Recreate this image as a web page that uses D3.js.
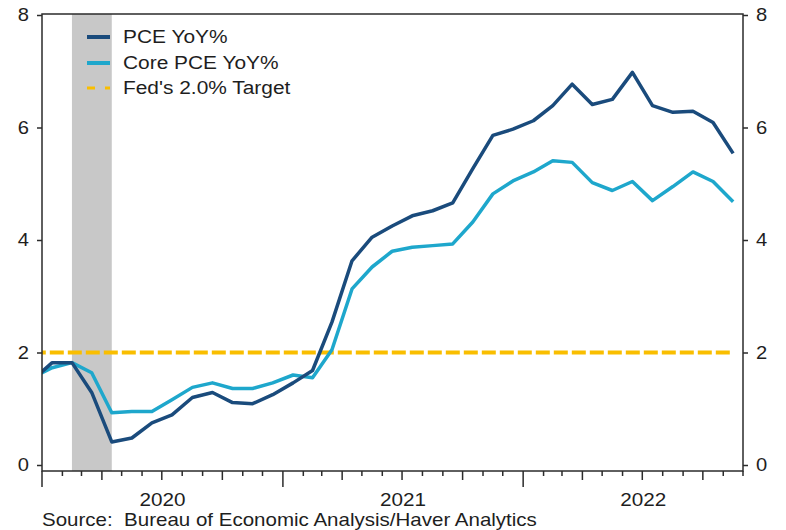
<!DOCTYPE html>
<html>
<head>
<meta charset="utf-8">
<script src="https://cdn.jsdelivr.net/npm/d3@7"></script>
<style>
  html, body { margin: 0; padding: 0; background: #fff; }
  svg { display: block; font-family: "Liberation Sans", Arial, sans-serif; }
</style>
</head>
<body>
<svg id="chart" width="786" height="530"></svg>
<script>
// ---- data ----
const months = ["2019-12",
  "2020-01","2020-02","2020-03","2020-04","2020-05","2020-06","2020-07","2020-08","2020-09","2020-10","2020-11","2020-12",
  "2021-01","2021-02","2021-03","2021-04","2021-05","2021-06","2021-07","2021-08","2021-09","2021-10","2021-11","2021-12",
  "2022-01","2022-02","2022-03","2022-04","2022-05","2022-06","2022-07","2022-08","2022-09","2022-10","2022-11"];
const pce = [1.50,
  1.82,1.82,1.29,0.41,0.48,0.75,0.89,1.20,1.29,1.11,1.09,1.25,
  1.46,1.68,2.54,3.63,4.05,4.25,4.43,4.52,4.66,5.27,5.86,5.97,
  6.12,6.39,6.77,6.41,6.50,6.98,6.39,6.27,6.29,6.09,5.54];
const corePce = [1.55,
  1.73,1.82,1.64,0.93,0.95,0.95,1.16,1.38,1.46,1.36,1.36,1.46,
  1.60,1.55,2.05,3.13,3.52,3.80,3.87,3.90,3.93,4.32,4.82,5.05,
  5.21,5.41,5.38,5.02,4.88,5.04,4.70,4.95,5.21,5.04,4.68];
const fedTarget = 2.0;
const recession = ["2020-02", "2020-04"];
const yTicks = [0, 2, 4, 6, 8];
const yearLabels = ["2020", "2021", "2022"];
const seriesNames = ["PCE YoY%", "Core PCE YoY%", "Fed's 2.0% Target"];

// ---- helpers ----
const parseMonth = d3.utcParse("%Y-%m");
function midMonth(s) {
  const a = parseMonth(s), b = d3.utcMonth.offset(a, 1);
  return new Date((+a + +b) / 2);
}
// horizontally widen text (reference glyphs are wider than Liberation Sans)
function stretch(sel, s) {
  sel.each(function () {
    const t = d3.select(this);
    const x0 = +(t.attr("x") || 0);
    t.attr("x", x0 / s).attr("transform", `scale(${s},1)`);
  });
}

// ---- layout ----
const svg = d3.select("#chart");
const L = 42, R = 743, T = 14, B = 471;
const x = d3.scaleUtc()
  .domain([new Date(Date.UTC(2020, 0, 1)), new Date(Date.UTC(2022, 11, 1))])
  .range([L, R]);
const y = d3.scaleLinear().domain([0, 8]).range([465, 15]);

const colors = { pce: "#1a4b7c", core: "#1ea7cc", target: "#f9be00", frame: "#2b2b2b", text: "#1e1e1e" };

svg.append("defs").append("clipPath").attr("id", "plotclip")
  .append("rect").attr("x", L).attr("y", T).attr("width", R - L).attr("height", B - T);

// recession shading
svg.append("rect")
  .attr("x", x(midMonth(recession[0])))
  .attr("y", T)
  .attr("width", x(midMonth(recession[1])) - x(midMonth(recession[0])))
  .attr("height", B - T)
  .attr("fill", "#c8c8c8");

const plot = svg.append("g").attr("clip-path", "url(#plotclip)");

// target line
const dates = months.map(midMonth);
plot.append("path")
  .datum(dates)
  .attr("fill", "none")
  .attr("stroke", colors.target)
  .attr("stroke-width", 4)
  .attr("stroke-dasharray", "14,4")
  .attr("d", d3.line().x(d => x(d)).y(() => y(fedTarget)));

const line = d3.line().x((d, i) => x(dates[i])).y(d => y(d));
plot.append("path").datum(corePce)
  .attr("fill", "none").attr("stroke", colors.core).attr("stroke-width", 3.5)
  .attr("stroke-linejoin", "round").attr("d", line);
plot.append("path").datum(pce)
  .attr("fill", "none").attr("stroke", colors.pce).attr("stroke-width", 3.5)
  .attr("stroke-linejoin", "round").attr("d", line);

// frame
svg.append("rect").attr("x", L).attr("y", T).attr("width", R - L).attr("height", B - T)
  .attr("fill", "none").attr("stroke", colors.frame).attr("stroke-width", 1.5);

// y axes
const yl = svg.append("g").attr("transform", `translate(${L},0)`)
  .call(d3.axisLeft(y).tickValues(yTicks).tickSize(5).tickPadding(8).tickFormat(d3.format("d")));
const yr = svg.append("g").attr("transform", `translate(${R},0)`)
  .call(d3.axisRight(y).tickValues(yTicks).tickSize(5).tickPadding(8).tickFormat(d3.format("d")));
[yl, yr].forEach(g => {
  g.select(".domain").remove();
  g.selectAll("line").attr("stroke", colors.frame).attr("stroke-width", 1.5);
  g.selectAll("text").attr("font-size", 18).attr("fill", colors.text)
    .attr("font-family", "Liberation Sans, Arial, sans-serif");
  stretch(g.selectAll("text"), 1.12);
});

// x ticks
const monthTicks = d3.utcMonth.range(x.domain()[0], d3.utcMonth.offset(x.domain()[1], 1));
svg.append("g").selectAll("line").data(monthTicks).join("line")
  .attr("x1", d => x(d)).attr("x2", d => x(d))
  .attr("y1", B)
  .attr("y2", d => B + (d.getUTCMonth() === 0 ? 16 : (d.getUTCMonth() % 3 === 0 ? 9 : 5)))
  .attr("stroke", colors.frame).attr("stroke-width", 1.5);

const yearText = svg.append("g").selectAll("text").data(yearLabels).join("text")
  .attr("x", d => {
    const a = d3.utcParse("%Y")(d), b = d3.utcYear.offset(a, 1);
    return x(new Date((+a + +b) / 2));
  })
  .attr("y", 506)
  .attr("text-anchor", "middle")
  .attr("font-size", 18).attr("fill", colors.text)
  .text(d => d);
stretch(yearText, 1.15);

// legend
const legend = svg.append("g");
const legendColors = [colors.pce, colors.core, colors.target];
const legendY = [37, 63, 88];
seriesNames.forEach((name, i) => {
  legend.append("line")
    .attr("x1", 87).attr("x2", 110).attr("y1", legendY[i]).attr("y2", legendY[i])
    .attr("stroke", legendColors[i]).attr("stroke-width", i === 2 ? 3 : 4)
    .attr("stroke-dasharray", i === 2 ? "8,10" : null);
  const t = legend.append("text")
    .attr("x", 123).attr("y", legendY[i] + 6)
    .attr("font-size", 19).attr("fill", colors.text)
    .text(name);
  stretch(t, 1.10);
});

// source
const src = svg.append("text").attr("x", 42).attr("y", 526)
  .attr("font-size", 18).attr("fill", colors.text)
  .attr("xml:space", "preserve")
  .text("Source:  Bureau of Economic Analysis/Haver Analytics");
stretch(src, 1.14);
</script>
</body>
</html>
